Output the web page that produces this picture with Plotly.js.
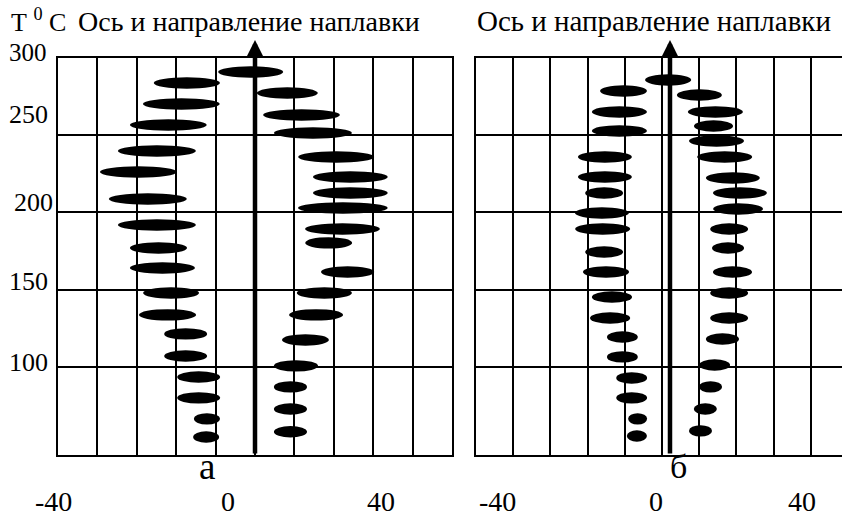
<!DOCTYPE html>
<html>
<head>
<meta charset="utf-8">
<script src="https://cdn.plot.ly/plotly-3.0.1.min.js"></script>
<style>html,body{margin:0;padding:0;background:#fff;}</style>
</head>
<body>
<div id="chart" style="width:842px;height:518px;"></div>
<script>
// ---- Panel "а": centre x (mm from weld axis), temperature T (°C), width of the spot (mm)
var aX = [-1.1,
  -17.3, -18.7, -22.0, -24.9, -29.6, -27.2, -24.9, -24.5, -23.5, -21.3, -22.2, -17.6, -17.6, -14.3, -14.3, -12.2, -12.4,
  8.2, 11.8, 14.7, 20.6, 24.2, 24.2, 22.3, 22.2, 18.7, 23.5, 17.6, 15.5, 12.8, 10.4, 9.0, 9.0, 9.0];
var aT = [290.9,
  283.8, 270.2, 256.6, 239.8, 226.2, 208.7, 191.9, 177.0, 164.1, 147.9, 133.7, 121.4, 107.1, 93.5, 80.0, 66.4, 54.7,
  277.3, 263.1, 251.5, 235.9, 223.0, 212.6, 202.9, 189.3, 180.3, 161.5, 147.9, 133.7, 117.5, 100.7, 87.1, 72.8, 58.0];
var aW = [16.5,
  16.8, 19.5, 19.5, 19.8, 19.5, 19.8, 19.8, 14.5, 16.5, 14.2, 14.5, 10.9, 10.9, 10.9, 10.9, 6.6, 6.6,
  15.5, 19.5, 19.8, 19.3, 19.0, 19.0, 22.8, 19.0, 11.9, 13.5, 14.0, 13.7, 11.9, 11.2, 8.4, 8.4, 8.4];

// ---- Panel "б"
var bX = [-0.5,
  -12.5, -13.6, -13.6, -17.5, -17.5, -17.7, -18.3, -18.1, -17.7, -17.2, -15.6, -16.1, -12.8, -12.8, -10.3, -10.3, -8.7, -8.9,
  7.9, 12.2, 11.7, 12.5, 14.7, 16.9, 18.8, 18.3, 15.9, 15.6, 16.8, 15.9, 15.9, 14.1, 12.0, 10.9, 9.5, 8.2];
var bT = [285.8,
  278.6, 265.1, 252.8, 235.9, 223.0, 212.6, 199.7, 189.3, 174.4, 161.5, 145.3, 131.7, 119.4, 106.5, 92.9, 80.0, 66.4, 55.3,
  276.1, 265.1, 256.0, 246.3, 235.9, 222.3, 212.6, 202.3, 189.3, 177.0, 161.5, 147.9, 131.7, 118.1, 101.3, 87.1, 72.8, 58.6];
var bW = [12.4,
  12.6, 14.8, 14.8, 14.5, 14.5, 10.2, 14.5, 14.8, 10.2, 12.4, 10.8, 10.8, 8.3, 8.3, 8.3, 8.3, 5.1, 5.4,
  12.1, 14.8, 10.5, 14.8, 14.8, 14.5, 14.5, 13.4, 10.2, 8.6, 10.5, 10.2, 10.2, 8.9, 8.3, 6.2, 6.2, 6.2];

// ---- Text
var unitLabel = "Т <sup>0</sup> С";
var axisTitle = "Ось и направление наплавки";
var panelLabels = ["а", "б"];
var yTickText = ["300", "250", "200", "150", "100"];
var xTickText = ["-40", "0", "40"];
var gridT = [100, 150, 200, 250];

// ---------------- layout helpers (pixel placement of free texts) ----------------
var W = 842, H = 518;
function px(x) { return x / W; }
function py(y) { return 1 - y / H; }
var serif = "Liberation Serif";
var spotH = 7.4;

var shapes = [];
function addSpots(X, T, Wd, xr, yr) {
  for (var i = 0; i < X.length; i++) {
    shapes.push({type: "circle", xref: xr, yref: yr,
      x0: X[i] - Wd[i] / 2, x1: X[i] + Wd[i] / 2,
      y0: T[i] - spotH / 2, y1: T[i] + spotH / 2,
      fillcolor: "#000", line: {width: 0}, layer: "above"});
  }
}
addSpots(aX, aT, aW, "x", "y");
addSpots(bX, bT, bW, "x2", "y2");

var traces = [
  {type: "scatter", mode: "none", x: aX, y: aT, xaxis: "x", yaxis: "y", hoverinfo: "x+y", showlegend: false},
  {type: "scatter", mode: "none", x: bX, y: bT, xaxis: "x2", yaxis: "y2", hoverinfo: "x+y", showlegend: false}
];

var gridStyle = {showgrid: true, gridcolor: "#000", gridwidth: 2, zeroline: false,
  showticklabels: false, ticks: "", showline: true, linecolor: "#000", linewidth: 2, fixedrange: true};

function txt(x, y, t, size, xa, ya) {
  return {xref: "paper", yref: "paper", x: px(x), y: py(y), xanchor: xa || "center", yanchor: ya || "middle",
    text: t, showarrow: false, borderpad: 0, font: {family: serif, size: size, color: "#000"}};
}

var annotations = [];
// titles
annotations.push(txt(10, 20, unitLabel, 26, "left"));
annotations.push(txt(77, 21, axisTitle, 28, "left"));
annotations.push(txt(654, 21, axisTitle, 29, "center"));
// y tick labels
var yLabPos = [[48, 52], [49, 114], [54, 202], [49, 281], [49, 362]];
var yLabSize = [25, 26, 26, 26, 26];
for (var i = 0; i < yTickText.length; i++) {
  annotations.push(txt(yLabPos[i][0], yLabPos[i][1], yTickText[i], yLabSize[i], "right"));
}
// x tick labels
var xLabPos = [53, 228, 381, 497, 656, 802];
for (var j = 0; j < xLabPos.length; j++) {
  annotations.push(txt(xLabPos[j], 518, xTickText[j % 3], 28, "center", "bottom"));
}
// panel letters
annotations.push(txt(207, 466, panelLabels[0], 37));
annotations.push(txt(678, 466, panelLabels[1], 34));
// weld axis arrows
annotations.push({xref: "x", yref: "paper", x: 0, y: py(40), ax: 0, ay: 415, axref: "pixel", ayref: "pixel",
  showarrow: true, arrowhead: 2, arrowsize: 0.72, arrowwidth: 4.5, arrowcolor: "#000", text: "",
  standoff: 0, startstandoff: 0});
annotations.push({xref: "x2", yref: "paper", x: 0, y: py(40), ax: 0, ay: 415, axref: "pixel", ayref: "pixel",
  showarrow: true, arrowhead: 2, arrowsize: 0.72, arrowwidth: 4.5, arrowcolor: "#000", text: "",
  standoff: 0, startstandoff: 0});

var layout = {
  width: W, height: H, autosize: false,
  margin: {l: 0, r: 0, t: 0, b: 0, pad: 0},
  paper_bgcolor: "#fff", plot_bgcolor: "#fff",
  showlegend: false,
  xaxis: Object.assign({}, gridStyle, {domain: [px(58), px(452)], range: [-50, 50], tick0: 0, dtick: 10, mirror: true, anchor: "y"}),
  yaxis: Object.assign({}, gridStyle, {domain: [py(455), py(58)], range: [43, 300], tickmode: "array", tickvals: gridT, mirror: true, anchor: "x"}),
  xaxis2: Object.assign({}, gridStyle, {domain: [px(476), 1], range: [-52.15, 46.24], tick0: -2.15, dtick: 10, mirror: true, anchor: "y2"}),
  yaxis2: Object.assign({}, gridStyle, {domain: [py(455), py(58)], range: [43, 300], tickmode: "array", tickvals: gridT, mirror: false, anchor: "x2"}),
  shapes: shapes,
  annotations: annotations
};

Plotly.newPlot("chart", traces, layout, {staticPlot: true, displayModeBar: false});
</script>
</body>
</html>
